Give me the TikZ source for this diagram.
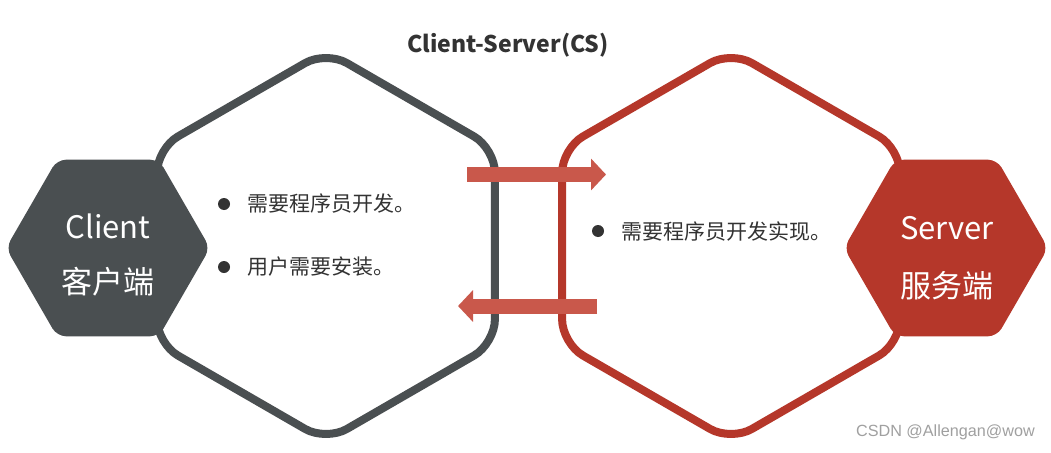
\documentclass[tikz,border=0pt]{standalone}
\usepackage{fontspec}
\newfontfamily\cjk{Noto Sans CJK SC}
\newfontfamily\wm{Liberation Sans}
\usetikzlibrary{arrows.meta}
\definecolor{hexgray}{HTML}{4A4F51}
\definecolor{hexred}{HTML}{B5372A}
\definecolor{arrowred}{HTML}{C9584B}
\definecolor{txt}{HTML}{333333}
\definecolor{wmgray}{HTML}{A0A0A0}
\tikzset{
  bighex/.style={line width=8pt, fill=white, rounded corners=24pt, line join=round},
  smallhex/.style={rounded corners=9pt},
  blockarrow/.style={draw=arrowred, line width=15pt, -{Triangle[length=15pt,width=31pt]}},
  bullettext/.style={font=\cjk\fontsize{21}{24}\selectfont, text=txt, anchor=west, inner sep=0pt},
  dot/.style={circle, fill=txt, minimum size=12pt, inner sep=0pt},
  hexlabel/.style={font=\cjk\fontsize{31}{35}\selectfont, text=white, inner sep=0pt},
}
\begin{document}
\begin{tikzpicture}[x=1pt,y=-1pt]
\useasboundingbox[fill=white] (0,0) rectangle (1051,452);

% big hexagons (pointy-top)
\draw[bighex, draw=hexgray] (326,51) -- (494.9,148.5) -- (494.9,343.5) -- (326,441) -- (157.1,343.5) -- (157.1,148.5) -- cycle;
\draw[bighex, draw=hexred] (731,51) -- (899.9,148.5) -- (899.9,343.5) -- (731,441) -- (562.1,343.5) -- (562.1,148.5) -- cycle;

% small hexagons (flat-top)
\fill[smallhex, hexgray] (210,248) -- (159,159.7) -- (57,159.7) -- (6,248) -- (57,336.3) -- (159,336.3) -- cycle;
\fill[smallhex, hexred] (1048,248) -- (997,159.7) -- (895,159.7) -- (844,248) -- (895,336.3) -- (997,336.3) -- cycle;

% hexagon labels
\node[hexlabel] (client) at (108,226) {Client};
\node[hexlabel] (clientcn) at (108,282) {客户端};
\node[hexlabel] (server) at (947,228) {Server};
\node[hexlabel] (servercn) at (947,286) {服务端};

% title
\node[font=\cjk\bfseries\fontsize{23}{27}\selectfont, text=txt] (title) at (508,45) {Client-Server(CS)};

% bullets
\node[dot] (d1) at (224,204) {};
\node[bullettext] (t1) at (247,204) {需要程序员开发。};
\node[dot] (d2) at (224,267) {};
\node[bullettext] (t2) at (247,267) {用户需要安装。};
\node[dot] (d3) at (598,231) {};
\node[bullettext] (t3) at (621,231) {需要程序员开发实现。};

% arrows
\coordinate (a1s) at (467,174.5);
\coordinate (a1e) at (606,174.5);
\coordinate (a2s) at (597,306);
\coordinate (a2e) at (458,306);
\draw[blockarrow] (a1s) -- (a1e);
\draw[blockarrow] (a2s) -- (a2e);

% watermark
\node[font=\wm\fontsize{16.2}{19}\selectfont, text=wmgray, anchor=east, inner sep=0pt] (wm) at (1035,432) {CSDN @Allengan@wow};
\end{tikzpicture}
\end{document}
